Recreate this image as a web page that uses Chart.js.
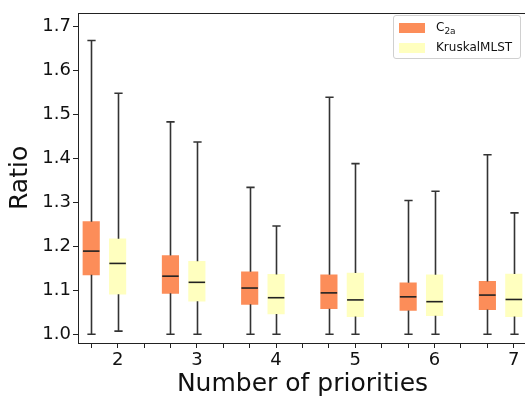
<!DOCTYPE html>
<html>
<head>
<meta charset="utf-8">
<script src="https://cdn.jsdelivr.net/npm/chart.js@4.4.1/dist/chart.umd.min.js"></script>
<style>
  body { margin: 0; background: #fff; overflow: hidden; }
  #wrap { position: relative; width: 525px; height: 399px; overflow: hidden; }
  #boxChart { position: absolute; left: 0; top: 0; }
  #legend {
    position: absolute; left: 393px; top: 15px; width: 126px; height: 42px;
    border: 1px solid #d0d0d0; border-radius: 3px; background: rgba(255,255,255,0.85);
    font-family: 'DejaVu Sans'; font-size: 12px; color: #111;
  }
  .item { position: absolute; left: 5px; height: 12px; line-height: 12px; }
  .patch { position: absolute; left: 0; top: 1px; width: 26px; height: 10px; }
  .label { position: absolute; left: 37px; top: -1px; white-space: nowrap; }
  .label sub { font-size: 9px; vertical-align: -3px; }
</style>
</head>
<body>
<div id="wrap">
  <canvas id="boxChart" width="530" height="399"></canvas>
  <div id="legend">
    <div class="item" style="top:6px"><span class="patch" style="background:#fc8d59"></span><span class="label">C<sub>2a</sub></span></div>
    <div class="item" style="top:26px"><span class="patch" style="background:#ffffbf"></span><span class="label">KruskalMLST</span></div>
  </div>
</div>
<script>
const categories = ['2', '3', '4', '5', '6', '7'];
const yTicks = [1.0, 1.1, 1.2, 1.3, 1.4, 1.5, 1.6, 1.7];

// C2a box stats
const c2aLow  = [1.000, 1.000, 1.000, 1.000, 1.000, 1.000];
const c2aQ1   = [1.135, 1.093, 1.068, 1.058, 1.054, 1.056];
const c2aMed  = [1.189, 1.132, 1.105, 1.094, 1.085, 1.089];
const c2aQ3   = [1.256, 1.179, 1.142, 1.135, 1.117, 1.120];
const c2aHigh = [1.668, 1.483, 1.334, 1.539, 1.304, 1.408];

// KruskalMLST box stats
const kruskalLow  = [1.007, 1.000, 1.000, 1.000, 1.000, 1.000];
const kruskalQ1   = [1.091, 1.075, 1.046, 1.040, 1.042, 1.040];
const kruskalMed  = [1.161, 1.118, 1.083, 1.078, 1.074, 1.079];
const kruskalQ3   = [1.217, 1.166, 1.136, 1.139, 1.135, 1.137];
const kruskalHigh = [1.548, 1.437, 1.246, 1.388, 1.325, 1.276];

const series = [
  { name: 'C2a', color: '#fc8d59', slot: 0, low: c2aLow, q1: c2aQ1, med: c2aMed, q3: c2aQ3, high: c2aHigh },
  { name: 'KruskalMLST', color: '#ffffbf', slot: 1, low: kruskalLow, q1: kruskalQ1, med: kruskalMed, q3: kruskalQ3, high: kruskalHigh }
];

// each group takes 3 slots: first series, second series, gap (no gap after the last group)
const slotLabels = [];
categories.forEach(c => slotLabels.push('', c, ''));
slotLabels.pop();

function boxData(s) {
  const out = slotLabels.map(() => null);
  categories.forEach((c, i) => { out[i * 3 + s.slot] = [s.q1[i], s.q3[i]]; });
  return out;
}

Chart.defaults.font.family = 'DejaVu Sans';
Chart.defaults.color = '#111';

const whiskerPlugin = {
  id: 'whiskers',
  afterDatasetsDraw(chart) {
    const ctx = chart.ctx;
    const y = chart.scales.y;
    ctx.save();
    series.forEach((s, d) => {
      const meta = chart.getDatasetMeta(d);
      categories.forEach((c, i) => {
        const el = meta.data[i * 3 + s.slot];
        if (!el) return;
        const x = Math.round(el.x) + 0.5;
        const half = el.width / 2;
        const cap = el.width / 4;
        ctx.strokeStyle = '#333';
        ctx.lineWidth = 1.6;
        ctx.beginPath();
        ctx.moveTo(x, y.getPixelForValue(s.q3[i]));
        ctx.lineTo(x, y.getPixelForValue(s.high[i]));
        ctx.moveTo(x, y.getPixelForValue(s.q1[i]));
        ctx.lineTo(x, y.getPixelForValue(s.low[i]));
        ctx.moveTo(x - cap, y.getPixelForValue(s.high[i]));
        ctx.lineTo(x + cap, y.getPixelForValue(s.high[i]));
        ctx.moveTo(x - cap, y.getPixelForValue(s.low[i]));
        ctx.lineTo(x + cap, y.getPixelForValue(s.low[i]));
        ctx.stroke();
        ctx.strokeStyle = '#222';
        ctx.beginPath();
        ctx.moveTo(el.x - half, y.getPixelForValue(s.med[i]));
        ctx.lineTo(el.x + half, y.getPixelForValue(s.med[i]));
        ctx.stroke();
      });
    });
    // frame round the plot
    const a = chart.chartArea;
    ctx.strokeStyle = '#222';
    ctx.lineWidth = 1;
    ctx.strokeRect(Math.round(a.left) + 0.5, Math.round(a.top) + 0.5, Math.round(a.right - a.left), Math.round(a.bottom - a.top));
    ctx.restore();
  }
};

const ctx = document.getElementById('boxChart').getContext('2d');
new Chart(ctx, {
  type: 'bar',
  data: {
    labels: slotLabels,
    datasets: series.map(s => ({
      label: s.name,
      data: boxData(s),
      backgroundColor: s.color,
      borderWidth: 0,
      barThickness: 16.5,
      grouped: false
    }))
  },
  options: {
    responsive: false,
    animation: false,
    layout: { padding: { top: 8, right: 3, left: 0, bottom: 0 } },
    plugins: { legend: { display: false }, tooltip: { enabled: false } },
    scales: {
      x: {
        offset: true,
        grid: { offset: false, drawOnChartArea: false, drawTicks: true, tickLength: 5, color: '#222' },
        border: { display: false },
        ticks: { autoSkip: false, maxRotation: 0, padding: 2, font: { size: 18 }, color: '#111' },
        title: { display: true, text: 'Number of priorities', font: { size: 25 }, color: '#111', padding: { top: 0, bottom: 0 } },
        afterFit(scale) { scale.height = 56; }
      },
      y: {
        min: 0.98,
        max: 1.731,
        grid: { drawOnChartArea: false, drawTicks: true, tickLength: 5, color: '#222' },
        border: { display: false },
        ticks: { padding: 2, font: { size: 18 }, color: '#111', callback: v => v.toFixed(1) },
        afterBuildTicks(scale) { scale.ticks = yTicks.map(v => ({ value: v })); },
        title: { display: true, text: 'Ratio', font: { size: 25 }, color: '#111', padding: { top: 5, bottom: 0 } },
        afterFit(scale) { scale.width = 78; }
      }
    }
  },
  plugins: [whiskerPlugin]
});
</script>
</body>
</html>
